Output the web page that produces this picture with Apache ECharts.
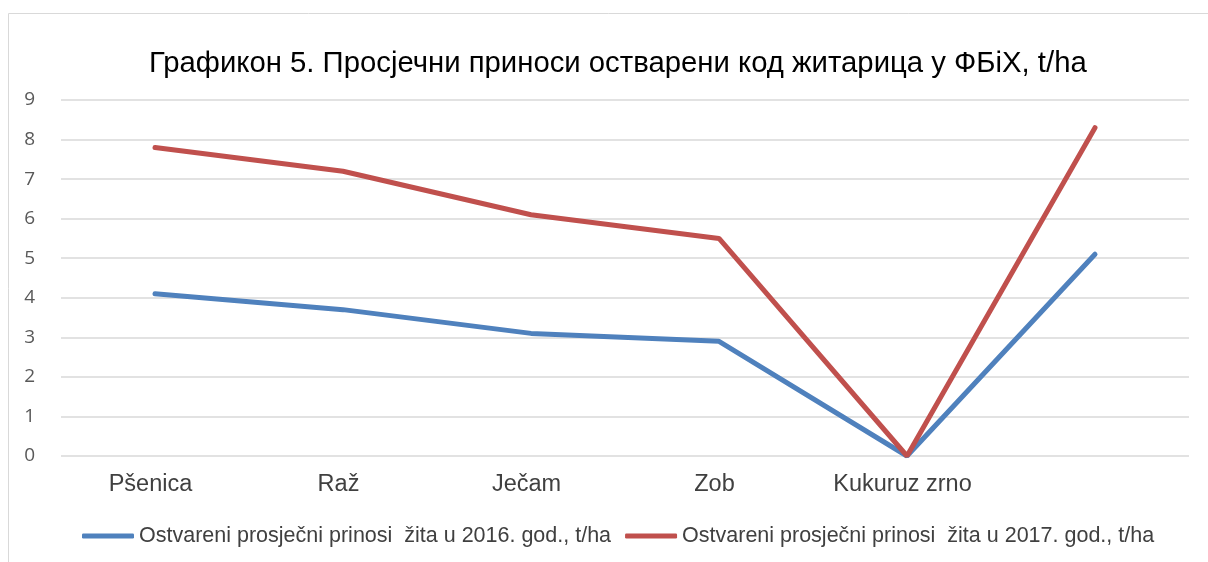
<!doctype html>
<html>
<head>
<meta charset="UTF-8">
<title>Графикон 5</title>
<script src="https://cdn.jsdelivr.net/npm/echarts@6/dist/echarts.min.js"></script>
<style>
  html, body { margin: 0; padding: 0; background: #fff; }
  #main { width: 1208px; height: 562px; }
</style>
</head>
<body>
<div id="main"></div>
<script type="text/javascript">
// podaci sa grafikona
var kategorije = ['Pšenica', 'Raž', 'Ječam', 'Zob', 'Kukuruz zrno', ''];
var prinos2016 = [4.1, 3.7, 3.1, 2.9, 0, 5.1];
var prinos2017 = [7.8, 7.2, 6.1, 5.5, 0, 8.3];
var naziv2016 = 'Ostvareni prosječni prinosi  žita u 2016. god., t/ha';
var naziv2017 = 'Ostvareni prosječni prinosi  žita u 2017. god., t/ha';
var yTicks = [0, 1, 2, 3, 4, 5, 6, 7, 8, 9];

var myChart = echarts.init(document.getElementById('main'));

var font = 'Liberation Sans, Arial, sans-serif';

var option = {
    animation: false,
    graphic: [{
        type: 'rect',
        shape: { x: 8.5, y: 13.5, width: 1220, height: 600 },
        style: { fill: 'none', stroke: '#d9d9d9', lineWidth: 1 },
        silent: true
    }],
    title: {
        text: 'Графикон 5. Просјечни приноси остварени код житарица у ФБіХ, t/ha',
        left: 149,
        top: 49,
        padding: 0,
        textStyle: { fontFamily: font, fontSize: 29.3, fontWeight: 'normal', color: '#000' }
    },
    legend: {
        bottom: 15,
        left: 82,
        padding: 0,
        itemGap: 14,
        itemWidth: 52,
        itemHeight: 5,
        icon: 'roundRect',
        textStyle: { fontFamily: font, fontSize: 21.5, color: '#404040' },
        data: [naziv2016, naziv2017]
    },
    grid: {
        left: 61,
        right: 19,
        top: 100,
        bottom: 106
    },
    xAxis: {
        type: 'category',
        data: kategorije,
        boundaryGap: true,
        axisLine: { show: false },
        axisTick: { show: false },
        axisLabel: { fontFamily: font, fontSize: 23.5, color: '#404040', margin: 17, padding: [0, 9, 0, 0] }
    },
    yAxis: {
        type: 'value',
        min: yTicks[0],
        max: yTicks[yTicks.length - 1],
        interval: 1,
        axisLine: { show: false },
        axisTick: { show: false },
        axisLabel: { fontFamily: 'Open Sans, sans-serif', fontSize: 19, color: '#595959', margin: 26 },
        splitLine: { lineStyle: { color: '#d9d9d9', width: 1.5 } }
    },
    series: [{
        name: naziv2016,
        type: 'line',
        data: prinos2016,
        symbol: 'none',
        color: '#4f81bd',
        lineStyle: { width: 5, cap: 'round' }
    }, {
        name: naziv2017,
        type: 'line',
        data: prinos2017,
        symbol: 'none',
        color: '#c0504d',
        lineStyle: { width: 5, cap: 'round' }
    }]
};

myChart.setOption(option);
</script>
</body>
</html>
